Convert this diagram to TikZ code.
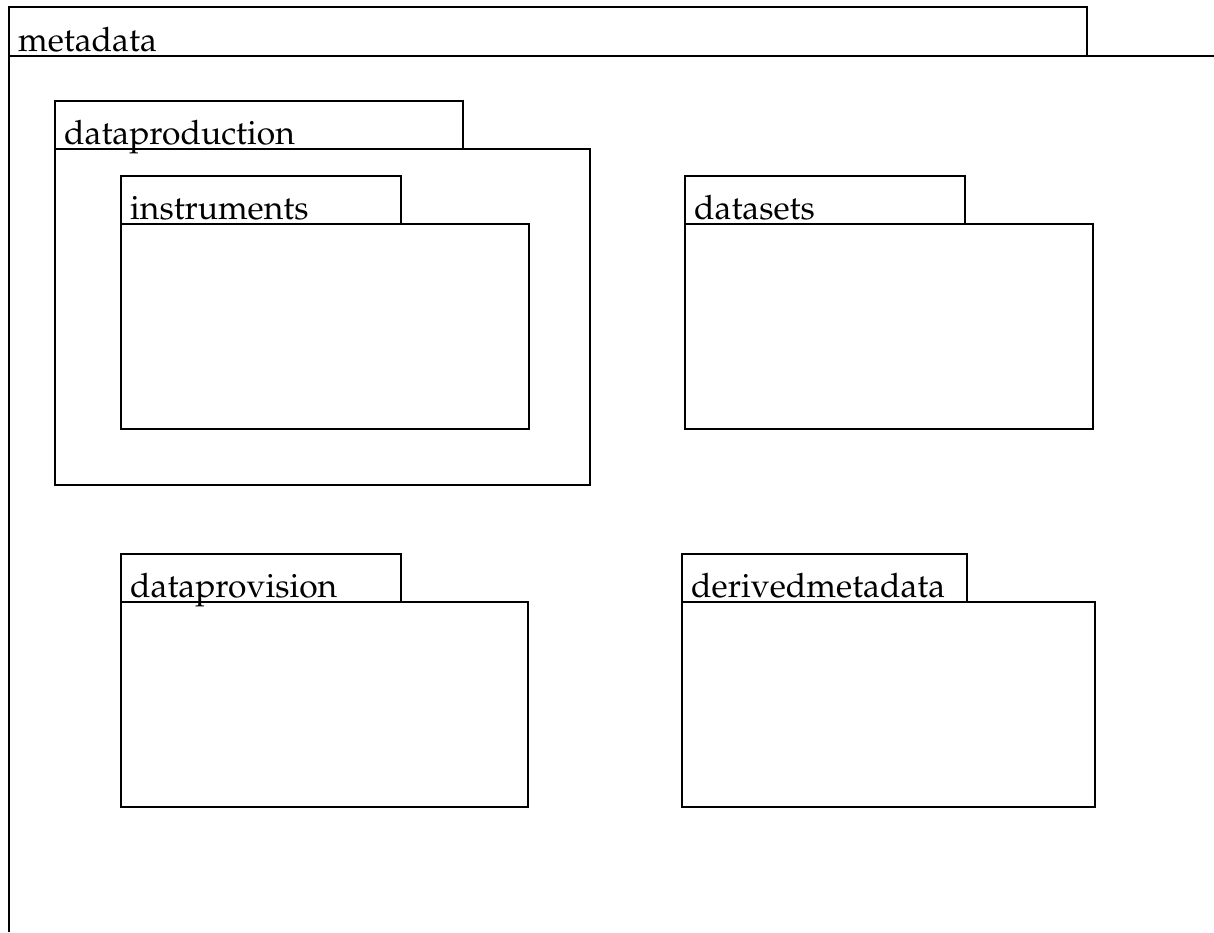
\documentclass[tikz,border=0pt]{standalone}
\usepackage[T1]{fontenc}
\renewcommand{\rmdefault}{ppl}
\begin{document}
\begin{tikzpicture}[x=1pt,y=-1pt,
  pkgline/.style={draw=black,line width=2.5pt,line join=miter},
  pkgbox/.style={pkgline,rectangle,inner sep=0pt,outer sep=0pt,anchor=north west},
  pkgname/.style={anchor=base west,inner sep=0pt,font=\fontsize{33.6}{37}\selectfont}]
\useasboundingbox (0,0) rectangle (1214,932);
% a package: tab and body rectangles plus its name
% #1 id, #2 x, #3 tab top, #4 tab width, #5 body width, #6 body height, #7 name
\newcommand{\umlpackage}[7]{%
  \node[pkgbox,minimum width=#4pt,minimum height=48pt] (#1tab) at (#2,#3) {};
  \node[pkgbox,minimum width=#5pt,minimum height=#6pt] (#1body) at (#2,#3+48) {};
  \node[pkgname] (#1name) at ([xshift=9pt,yshift=5pt]#1tab.south west) {#7};
}
% outer package, cut off at the right and bottom
\coordinate (mtl) at (9,7);
\coordinate (mtr) at (1087,7);
\coordinate (mbl) at (9,56);
\coordinate (mbr) at (1087,56);
\coordinate (mright) at (1214,56);
\coordinate (mbottom) at (9,932);
\draw[pkgline] (mbl) -- (mtl) -- (mtr) -- (mbr);
\draw[pkgline] (mright) -- (mbl) -- (mbottom);
\node[pkgname] (metaname) at ([xshift=9pt,yshift=5pt]mbl) {metadata};
% nested packages
\umlpackage{prod}{55}{101}{408}{535}{336}{dataproduction}
\umlpackage{instr}{121}{176}{280}{408}{205}{instruments}
\umlpackage{sets}{685}{176}{280}{408}{205}{datasets}
\umlpackage{prov}{121}{554}{280}{407}{205}{dataprovision}
\umlpackage{derived}{682}{554}{285}{413}{205}{derivedmetadata}
\end{tikzpicture}
\end{document}
